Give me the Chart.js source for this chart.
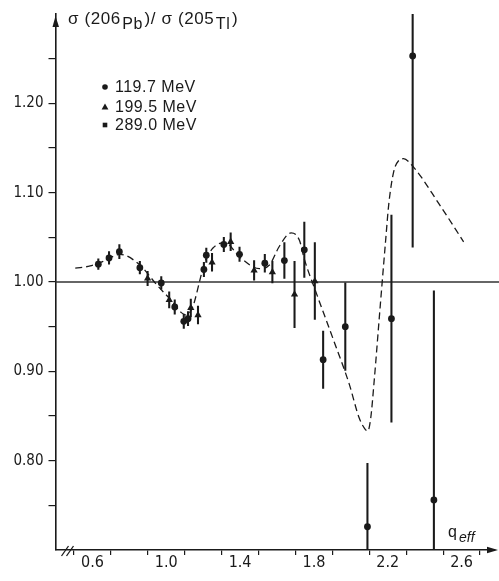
<!DOCTYPE html>
<html>
<head>
<meta charset="utf-8">
<script src="https://cdn.jsdelivr.net/npm/chart.js@4.4.1/dist/chart.umd.min.js"></script>
<style>
    html, body { margin: 0; padding: 0; background: #fff; }
    #chart { display: block; }
</style>
</head>
<body>
<canvas id="chart" width="499" height="581"></canvas>
<script>
// Dados: razão sigma(206Pb)/sigma(205Tl) vs q_eff
const circleQ   = [0.632, 0.690, 0.746, 0.857, 0.973, 1.046, 1.095, 1.118, 1.204, 1.217, 1.312, 1.397, 1.534, 1.640, 1.748, 1.850, 1.970, 2.090, 2.220, 2.335, 2.450];
const circleV   = [1.020, 1.027, 1.034, 1.016, 0.999, 0.972, 0.956, 0.959, 1.014, 1.030, 1.042, 1.031, 1.021, 1.024, 1.036, 0.913, 0.950, 0.726, 0.959, 1.253, 0.756];
const circleErr = [0.006, 0.007, 0.008, 0.007, 0.007, 0.008, 0.008, 0.008, 0.008, 0.008, 0.008, 0.008, 0.010, 0.020, 0.031, 0.032, 0.049, 0.071, 0.116, 0.214, 0.234];

const triangleQ   = [0.899, 1.016, 1.133, 1.172, 1.248, 1.349, 1.476, 1.575, 1.695, 1.805];
const triangleV   = [1.004, 0.980, 0.971, 0.963, 1.022, 1.045, 1.013, 1.011, 0.986, 1.001];
const triangleErr = [0.008, 0.009, 0.010, 0.010, 0.010, 0.010, 0.011, 0.012, 0.037, 0.043];

// 289.0 MeV: nenhum ponto distinguível no gráfico
const squareQ = [];
const squareV = [];

// Curva teórica (tracejada)
const curveQ = [0.507, 0.588, 0.670, 0.749, 0.857, 0.948, 1.037, 1.080, 1.109, 1.145, 1.181, 1.205, 1.253, 1.320, 1.397, 1.505, 1.559, 1.613, 1.676, 1.721, 1.749, 1.807, 1.901, 1.991, 2.045, 2.075, 2.092, 2.108, 2.126, 2.160, 2.188, 2.206, 2.233, 2.260, 2.285, 2.342, 2.476, 2.611];
const curveV = [1.0155, 1.018, 1.024, 1.031, 1.019, 0.997, 0.977, 0.966, 0.963, 0.973, 1.001, 1.020, 1.038, 1.044, 1.028, 1.015, 1.019, 1.040, 1.055, 1.047, 1.025, 0.991, 0.938, 0.886, 0.848, 0.836, 0.833, 0.848, 0.888, 0.975, 1.045, 1.088, 1.124, 1.136, 1.138, 1.128, 1.088, 1.045];

const xTicks = [0.6, 0.8, 1.0, 1.2, 1.4, 1.6, 1.8, 2.0, 2.2, 2.4, 2.6];
const xLabels = [0.6, 1.0, 1.4, 1.8, 2.2, 2.6];
const yTicks = [0.75, 0.80, 0.85, 0.90, 0.95, 1.00, 1.05, 1.10, 1.15, 1.20, 1.25];
const yLabels = [0.80, 0.90, 1.00, 1.10, 1.20];
const refLevel = 1.00;

const legendLabels = ['119.7 MeV', '199.5 MeV', '289.0 MeV'];

const INK = '#1a1a1a';
const FONT = "'Liberation Sans', Arial, sans-serif";
const NARROW = "'Liberation Sans Narrow', 'DejaVu Sans Condensed', 'Liberation Sans', sans-serif";

const toPoints = (qs, vs) => qs.map((q, i) => ({ x: q, y: vs[i] }));
const toBars = (qs, vs, es) => qs.map((q, i) => ({ x: q, y: [vs[i] - es[i], vs[i] + es[i]] }));
const hasValue = (list, v) => list.some(t => Math.abs(t - v) < 1e-6);

// Desenho do marcador (para a legenda)
const drawMarker = (ctx, style, x, y) => {
    ctx.save();
    ctx.fillStyle = INK;
    ctx.beginPath();
    if (style === 'circle') {
        ctx.arc(x, y, 2.8, 0, Math.PI * 2);
    } else if (style === 'triangle') {
        ctx.moveTo(x, y - 3.6);
        ctx.lineTo(x + 3.4, y + 2.6);
        ctx.lineTo(x - 3.4, y + 2.6);
        ctx.closePath();
    } else {
        ctx.rect(x - 2.3, y - 2.3, 4.6, 4.6);
    }
    ctx.fill();
    ctx.restore();
};

const decorPlugin = {
    id: 'decor',
    beforeDatasetsDraw(chart) {
        const { ctx, chartArea, scales } = chart;
        const y = scales.y.getPixelForValue(refLevel);
        ctx.save();
        ctx.strokeStyle = '#333';
        ctx.lineWidth = 1.6;
        ctx.beginPath();
        ctx.moveTo(chartArea.left, y);
        ctx.lineTo(chart.width, y);
        ctx.stroke();
        ctx.restore();
    },
    afterDraw(chart) {
        const { ctx, chartArea } = chart;
        const left = chartArea.left, bottom = chartArea.bottom;
        ctx.save();
        ctx.fillStyle = INK;
        ctx.strokeStyle = INK;

        // seta do eixo y
        ctx.beginPath();
        ctx.moveTo(left, chartArea.top + 2);
        ctx.lineTo(left + 3.5, chartArea.top + 13);
        ctx.lineTo(left - 3, chartArea.top + 13);
        ctx.closePath();
        ctx.fill();

        // seta do eixo x
        ctx.beginPath();
        ctx.moveTo(chart.width - 1, bottom);
        ctx.lineTo(chart.width - 12, bottom - 3.2);
        ctx.lineTo(chart.width - 12, bottom + 3.2);
        ctx.closePath();
        ctx.fill();

        // quebra do eixo x
        ctx.lineWidth = 1.3;
        [0, 5].forEach(dx => {
            ctx.beginPath();
            ctx.moveTo(left + 6 + dx, bottom + 6);
            ctx.lineTo(left + 13 + dx, bottom - 4);
            ctx.stroke();
        });

        // título do eixo y
        const parts = [
            ['\u03C3 (206', 0, 17],
            ['Pb', 5, 16],
            [')/ \u03C3 (205', 0, 17],
            ['Tl', 5, 16],
            [')', 0, 17]
        ];
        let x = 68;
        ctx.textBaseline = 'alphabetic';
        ctx.textAlign = 'left';
        ctx.letterSpacing = '0.6px';
        parts.forEach(([txt, dy, size]) => {
            ctx.font = `${size}px ${FONT}`;
            ctx.fillText(txt, x, 24 + dy);
            x += ctx.measureText(txt).width + 1.5;
        });

        // legenda
        const styles = ['circle', 'triangle', 'rect'];
        const rows = [87, 107, 125];
        ctx.font = `16px ${FONT}`;
        ctx.letterSpacing = '0.5px';
        ctx.textBaseline = 'middle';
        legendLabels.forEach((lab, i) => {
            drawMarker(ctx, styles[i], 105, rows[i]);
            ctx.fillText(lab, 115, rows[i] + 1);
        });
        ctx.letterSpacing = '0px';

        // rótulo do eixo x
        ctx.textBaseline = 'alphabetic';
        ctx.font = `16px ${FONT}`;
        ctx.fillText('q', 448, 537);
        ctx.font = `italic 14px ${FONT}`;
        ctx.fillText('eff', 459, 542);
        ctx.restore();
    }
};

new Chart(document.getElementById('chart'), {
    type: 'scatter',
    data: {
        datasets: [
            {
                type: 'bar',
                label: 'erros',
                data: [...toBars(circleQ, circleV, circleErr), ...toBars(triangleQ, triangleV, triangleErr)],
                backgroundColor: INK,
                borderWidth: 0,
                barThickness: 1.4,
                grouped: false,
                order: 4
            },
            {
                type: 'line',
                label: 'teoria',
                data: toPoints(curveQ, curveV),
                borderColor: INK,
                borderWidth: 1.3,
                borderDash: [7, 4],
                pointRadius: 0,
                fill: false,
                cubicInterpolationMode: 'monotone',
                order: 3
            },
            {
                label: legendLabels[0],
                data: toPoints(circleQ, circleV),
                pointStyle: 'circle',
                pointRadius: 3.4,
                backgroundColor: INK,
                borderWidth: 0,
                order: 1
            },
            {
                label: legendLabels[1],
                data: toPoints(triangleQ, triangleV),
                pointStyle: 'triangle',
                pointRadius: 4.2,
                backgroundColor: INK,
                borderWidth: 0,
                order: 1
            },
            {
                label: legendLabels[2],
                data: toPoints(squareQ, squareV),
                pointStyle: 'rect',
                pointRadius: 3,
                backgroundColor: INK,
                borderWidth: 0,
                order: 1
            }
        ]
    },
    options: {
        responsive: false,
        animation: false,
        layout: { padding: { top: 8.4, right: 2.5, left: 0, bottom: 0 } },
        plugins: {
            legend: { display: false },
            tooltip: { enabled: false }
        },
        scales: {
            x: {
                type: 'linear',
                min: 0.40,
                max: 2.78,
                offset: false,
                afterBuildTicks: s => { s.ticks = xTicks.map(v => ({ value: v })); },
                afterFit: s => { s.height = 31; },
                ticks: {
                    autoSkip: false,
                    maxRotation: 0,
                    padding: -2,
                    color: INK,
                    font: { family: NARROW, size: 16 },
                    callback: v => hasValue(xLabels, v) ? v.toFixed(1) : ''
                },
                grid: { drawOnChartArea: false, tickLength: 5, color: INK, lineWidth: 1.2 },
                border: { display: true, color: INK, width: 1.6 }
            },
            y: {
                type: 'linear',
                min: 0.70,
                max: 1.30,
                afterBuildTicks: s => { s.ticks = yTicks.map(v => ({ value: v })); },
                afterFit: s => { s.width = 55.5; },
                ticks: {
                    autoSkip: false,
                    padding: 5,
                    color: INK,
                    font: { family: NARROW, size: 15 },
                    callback: v => hasValue(yLabels, v) ? v.toFixed(2) : ''
                },
                grid: { drawOnChartArea: false, tickLength: 7, color: INK, lineWidth: 1.2 },
                border: { display: true, color: INK, width: 1.6 }
            }
        }
    },
    plugins: [decorPlugin]
});
</script>
</body>
</html>
